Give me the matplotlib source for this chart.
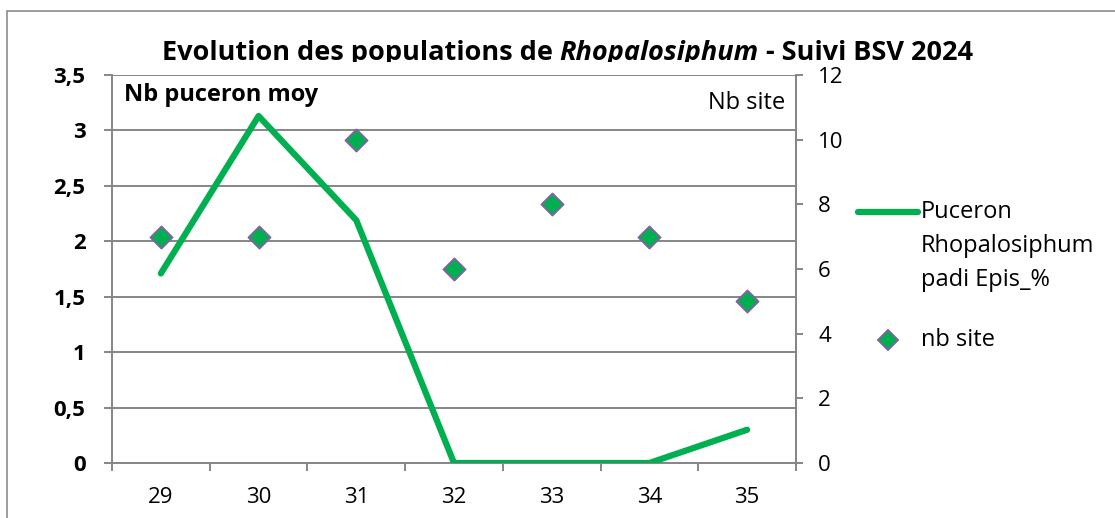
import matplotlib
matplotlib.use("Agg")
import matplotlib.pyplot as plt
from matplotlib.lines import Line2D
from matplotlib.patches import Rectangle
from matplotlib.transforms import Bbox

weeks = ["29", "30", "31", "32", "33", "34", "35"]
puceron_moy = [1.71, 3.13, 2.19, 0.0, 0.0, 0.0, 0.30]
nb_site = [7, 7, 10, 6, 8, 7, 5]
left_ticks = [0, 0.5, 1, 1.5, 2, 2.5, 3, 3.5]
left_labels = ["0", "0,5", "1", "1,5", "2", "2,5", "3", "3,5"]
right_ticks = [0, 2, 4, 6, 8, 10, 12]
series_names = ["Puceron\nRhopalosiphum\npadi Epis_%", "nb site"]

FONT = ['Open Sans', 'DejaVu Sans']
plt.rcParams['font.family'] = FONT
GREEN = "#00b050"
PURPLE = "#8064a2"
GRID = "#868686"
TICKFS = 16
LABFS = 17
W, H = 1115, 518

fig = plt.figure(figsize=(W/100, H/100), dpi=100)
fig.patches.append(Rectangle((7/W, -0.1), 1.2, (H-11)/H + 0.1, transform=fig.transFigure,
                             fill=False, edgecolor="#8c8c8c", linewidth=1.2))

ax = fig.add_axes([112/W, 1-463/H, (796-112)/W, (463-75)/H])
x = list(range(len(weeks)))
ax.plot(x, puceron_moy, color=GREEN, linewidth=4.5, solid_capstyle="round", zorder=3)
ax.set_xlim(-0.5, len(weeks)-0.5)
ax.set_ylim(0, 3.5)
ax.set_yticks(left_ticks)
ax.set_yticklabels(left_labels, fontsize=TICKFS)
for lbl in ax.get_yticklabels():
    lbl.set_fontweight("bold")
ax.yaxis.grid(True, color=GRID, linewidth=1.4)
ax.set_axisbelow(True)
ax.set_xticks(x)
ax.set_xticklabels(weeks, fontsize=TICKFS)
ax.tick_params(axis="x", length=0, pad=17)
ax.set_xticks([i + 0.5 for i in range(-1, len(weeks))], minor=True)
ax.tick_params(axis="x", which="minor", length=6, color=GRID, width=1.4)
ax.tick_params(axis="y", length=6, color=GRID, width=1.4, pad=13)
ax.spines["top"].set_visible(False)
for s in ["left", "bottom", "right"]:
    ax.spines[s].set_color(GRID)
    ax.spines[s].set_linewidth(1.4)

ax2 = ax.twinx()
ax2.scatter(x, nb_site, marker="D", s=125, color=GREEN, edgecolors=PURPLE, linewidths=1.4, zorder=4)
ax2.set_ylim(0, 12)
ax2.set_yticks(right_ticks)
ax2.set_yticklabels([str(t) for t in right_ticks], fontsize=TICKFS)
ax2.tick_params(axis="y", length=5, color=GRID, width=1.4, pad=11)
for s in ["top", "left", "bottom"]:
    ax2.spines[s].set_visible(False)
ax2.spines["right"].set_color(GRID)
ax2.spines["right"].set_linewidth(1.4)

ax.text(12/684, 1 - 8/388, "Nb puceron moy", transform=ax.transAxes, fontsize=LABFS,
        fontweight="bold", ha="left", va="top")
ax.text(1 - 11/684, 1 - 16/388, "Nb site", transform=ax.transAxes, fontsize=LABFS,
        ha="right", va="top")

# title in pieces: bold + bold italic + bold, clipped at the bottom like the reference
parts = [("Evolution des populations de ", "normal"), ("Rhopalosiphum", "italic"),
         (" - Suivi BSV 2024", "normal")]
renderer = fig.canvas.get_renderer()
TFS = 19.5
widths = []
for s, st in parts:
    t = fig.text(0, 0, s, fontsize=TFS, fontweight="bold", style=st)
    widths.append(t.get_window_extent(renderer).width)
    t.remove()
total = sum(widths)
xpos = 567 - total / 2
clip = Bbox.from_extents(0, H - 62, W, H)
for (s, st), w in zip(parts, widths):
    t = fig.text(xpos / W, (H - 60) / H, s, fontsize=TFS, fontweight="bold", style=st,
                 ha="left", va="baseline")
    t.set_clip_box(clip)
    t.set_clip_on(True)
    xpos += w

# legend drawn at the reference's position
fig.add_artist(Line2D([858/W, 918/W], [1-212/H, 1-212/H], transform=fig.transFigure,
                      color=GREEN, linewidth=4.5, solid_capstyle="round"))
for i, line in enumerate(series_names[0].split("\n")):
    fig.text(921/W, 1 - (212 + 34*i)/H, line, fontsize=LABFS, ha="left", va="center")
fig.add_artist(Line2D([888/W], [1-340/H], transform=fig.transFigure, marker="D",
                      linestyle="none", markersize=10, markerfacecolor=GREEN,
                      markeredgecolor=PURPLE, markeredgewidth=1.4))
fig.text(921/W, 1 - 340/H, series_names[1], fontsize=LABFS, ha="left", va="center")

fig.savefig("out.png", dpi=100)
